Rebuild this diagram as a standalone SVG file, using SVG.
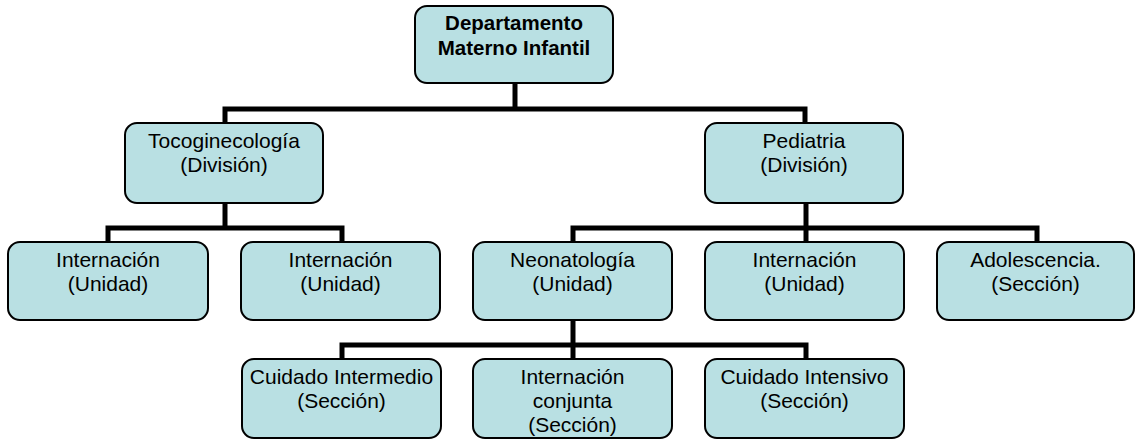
<svg xmlns="http://www.w3.org/2000/svg" width="1136" height="439" viewBox="0 0 1136 439">
<style>
.box{fill:#B9E0E3;stroke:#000;stroke-width:2}
.t{font-family:"Liberation Sans",Arial,sans-serif;font-size:21px;fill:#000;text-anchor:middle}
.b{font-weight:bold;font-size:20.5px}
.c{fill:none;stroke:#000;stroke-width:5;stroke-linejoin:miter;stroke-linecap:butt}
</style>
<rect width="1136" height="439" fill="#fff"/>
<g id="connectors">
<path class="c" d="M515 83V109"/>
<path class="c" d="M225 123V109H805V123"/>
<path class="c" d="M225 203V228"/>
<path class="c" d="M108 242V228H342V242"/>
<path class="c" d="M806 202V242"/>
<path class="c" d="M573 242V228H1037V242"/>
<path class="c" d="M573 320V359"/>
<path class="c" d="M342 359V345H806V359"/>
</g>
<g id="n-departamento">
<rect class="box" x="415" y="6" width="198" height="77" rx="12"/>
<text class="t b" x="514" y="30">Departamento</text>
<text class="t b" x="514" y="55">Materno Infantil</text>
</g>
<g id="n-toco">
<rect class="box" x="125" y="123" width="198" height="80" rx="12"/>
<text class="t" x="224" y="148">Tocoginecología</text>
<text class="t" x="224" y="172">(División)</text>
</g>
<g id="n-pediatria">
<rect class="box" x="705" y="123" width="198" height="80" rx="12"/>
<text class="t" x="804" y="148">Pediatria</text>
<text class="t" x="804" y="172">(División)</text>
</g>
<g id="n-internacion1">
<rect class="box" x="8" y="242" width="200" height="78" rx="12"/>
<text class="t" x="108" y="267">Internación</text>
<text class="t" x="108" y="291">(Unidad)</text>
</g>
<g id="n-internacion2">
<rect class="box" x="241" y="242" width="199" height="78" rx="12"/>
<text class="t" x="340.5" y="267">Internación</text>
<text class="t" x="340.5" y="291">(Unidad)</text>
</g>
<g id="n-neonatologia">
<rect class="box" x="473" y="242" width="199" height="78" rx="12"/>
<text class="t" x="572.5" y="267">Neonatología</text>
<text class="t" x="572.5" y="291">(Unidad)</text>
</g>
<g id="n-internacion3">
<rect class="box" x="705" y="242" width="199" height="78" rx="12"/>
<text class="t" x="804.5" y="267">Internación</text>
<text class="t" x="804.5" y="291">(Unidad)</text>
</g>
<g id="n-adolescencia">
<rect class="box" x="937" y="242" width="197" height="78" rx="12"/>
<text class="t" x="1035.5" y="267">Adolescencia.</text>
<text class="t" x="1035.5" y="291">(Sección)</text>
</g>
<g id="n-cuidado-intermedio">
<rect class="box" x="242" y="359" width="199" height="79" rx="12"/>
<text class="t" x="341.5" y="384">Cuidado Intermedio</text>
<text class="t" x="341.5" y="408">(Sección)</text>
</g>
<g id="n-internacion-conjunta">
<rect class="box" x="473" y="359" width="199" height="79" rx="12"/>
<text class="t" x="572.5" y="384">Internación</text>
<text class="t" x="572.5" y="408">conjunta</text>
<text class="t" x="572.5" y="432">(Sección)</text>
</g>
<g id="n-cuidado-intensivo">
<rect class="box" x="705" y="359" width="199" height="79" rx="12"/>
<text class="t" x="804.5" y="384">Cuidado Intensivo</text>
<text class="t" x="804.5" y="408">(Sección)</text>
</g>
</svg>
